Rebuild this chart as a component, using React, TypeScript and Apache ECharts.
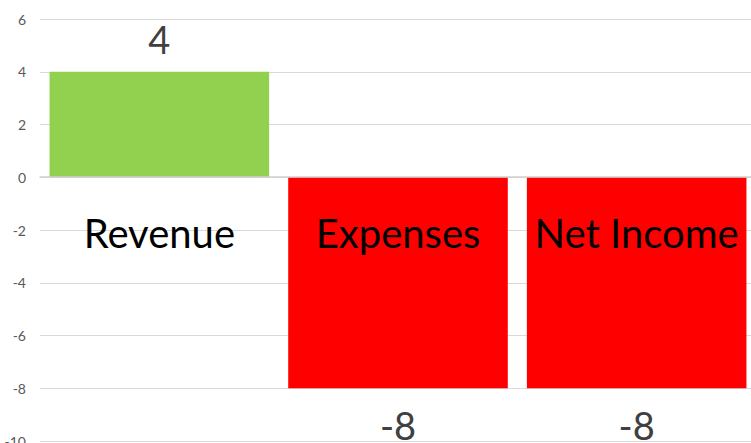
import React, { useEffect, useRef } from "react";
import * as echarts from "echarts";

const categories = ["Revenue", "Expenses", "Net Income"];
const values = [4, -8, -8];
const barColors = ["#92D050", "#FF0000", "#FF0000"];
const yMin = -10;
const yMax = 6;
const yStep = 2;

export default function App() {
  const ref = useRef<HTMLDivElement>(null);
  useEffect(() => {
    if (!ref.current) return;
    const chart = echarts.init(ref.current, undefined, { renderer: "svg" });
    const font = "Lato, 'Liberation Sans', Arial, sans-serif";
    chart.setOption({
      animation: false,
      grid: {
        left: 40,
        right: -5,
        top: 19,
        bottom: 2,
        containLabel: false,
        outerBoundsMode: "none",
      },
      xAxis: {
        type: "category",
        data: categories,
        position: "bottom",
        offset: -264,
        z: 10,
        axisTick: { show: false },
        axisLine: { onZero: false, lineStyle: { color: "#d0d0d0", width: 1.5 } },
        axisLabel: {
          margin: 36,
          fontSize: 40,
          color: "#000000",
          fontFamily: font,
          interval: 0,
        },
      },
      yAxis: {
        type: "value",
        min: yMin,
        max: yMax,
        interval: yStep,
        axisLine: { show: false },
        axisTick: { show: false },
        splitLine: { lineStyle: { color: "#d9d9d9", width: 1 } },
        axisLabel: { fontSize: 14, color: "#595959", margin: 14, fontFamily: font },
      },
      series: [
        {
          type: "bar",
          barCategoryGap: "8%",
          data: values.map((v, i) => ({
            value: v,
            itemStyle: { color: barColors[i] },
            label: {
              show: true,
              position: v >= 0 ? "top" : "bottom",
              distance: v >= 0 ? 14 : 18,
              fontSize: 38,
              color: "#404040",
              fontFamily: font,
            },
          })),
        },
      ],
    });
    return () => chart.dispose();
  }, []);
  return (
    <div
      ref={ref}
      style={{ position: "absolute", left: 0, top: 0, width: 751, height: 443 }}
    />
  );
}
